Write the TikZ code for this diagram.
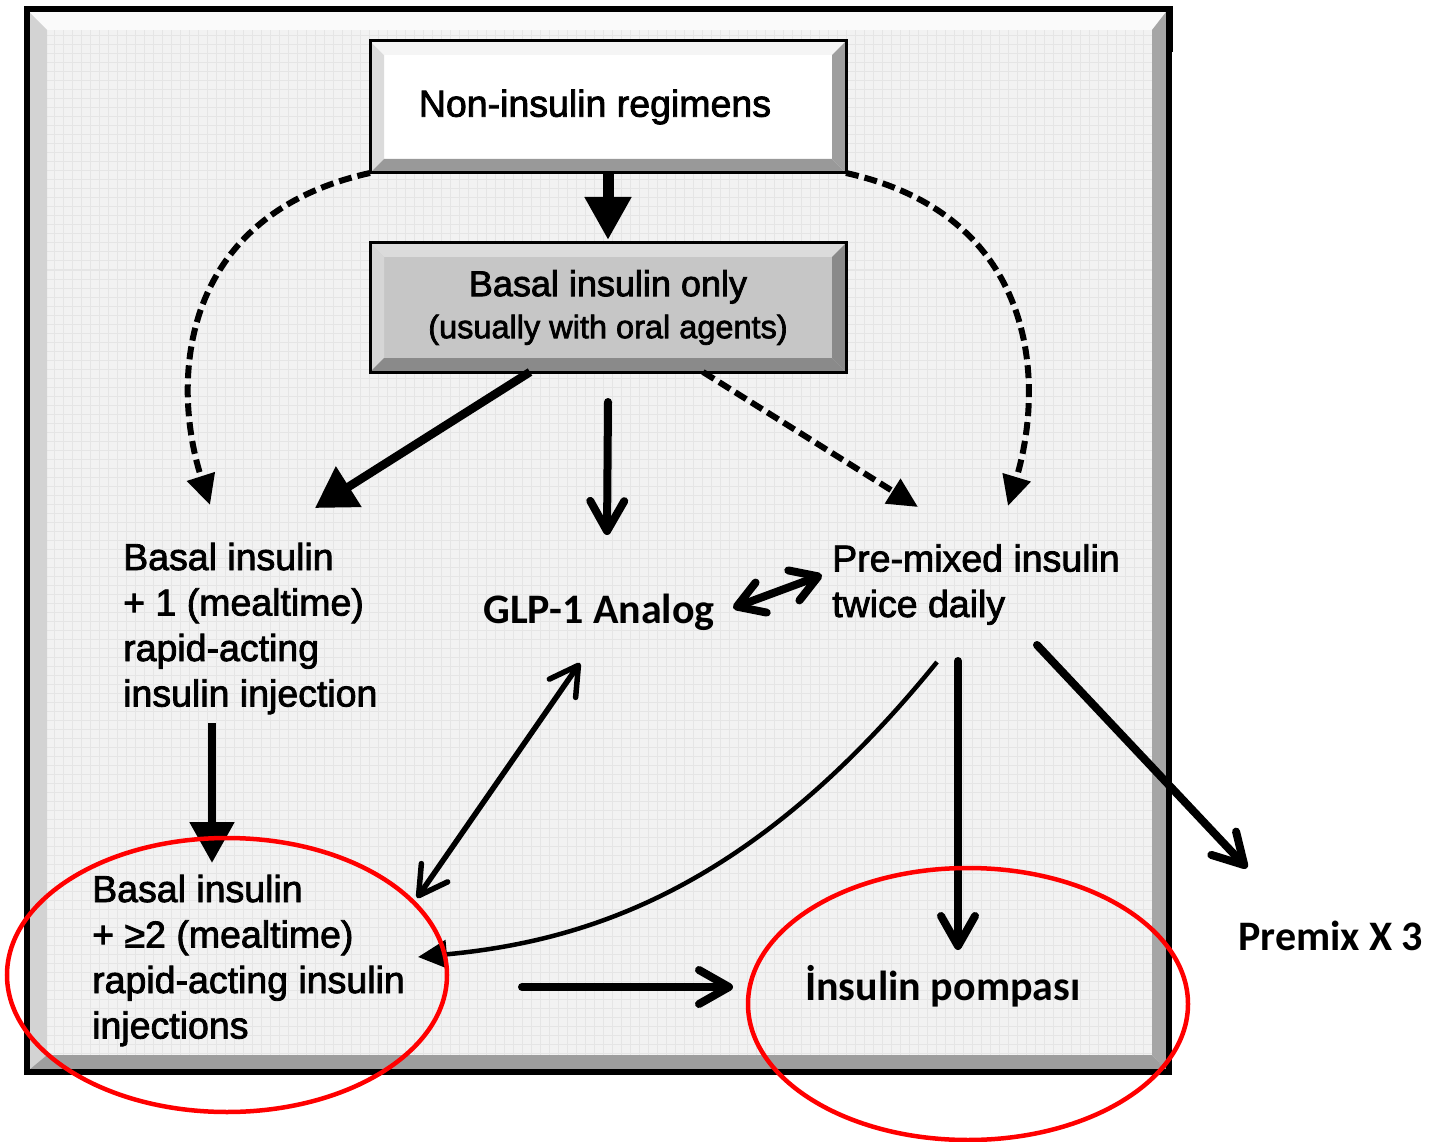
\documentclass[tikz,border=0pt]{standalone}
\usepackage{fontspec}
\setmainfont{Liberation Sans}[FakeBold=2.2]
\newfontfamily\calfont{Carlito}
\usetikzlibrary{arrows.meta,shapes.geometric}

\definecolor{fieldc}{HTML}{F2F2F2}
\definecolor{gridc}{HTML}{E5E5E5}
\definecolor{bevlight}{HTML}{D3D3D3}
\definecolor{bevdark}{HTML}{A6A6A6}
\definecolor{basalface}{HTML}{C6C6C6}
\definecolor{ringred}{HTML}{FF0000}

% bevelled edge for a rectangular node: node, depth, left, top, right, bottom colours
\newcommand{\bevelframe}[6]{%
  \fill[#3] (#1.north west) -- ([xshift=#2,yshift=-#2]#1.north west) -- ([xshift=#2,yshift=#2]#1.south west) -- (#1.south west) -- cycle;
  \fill[#4] (#1.north west) -- (#1.north east) -- ([xshift=-#2,yshift=-#2]#1.north east) -- ([xshift=#2,yshift=-#2]#1.north west) -- cycle;
  \fill[#5] (#1.north east) -- (#1.south east) -- ([xshift=-#2,yshift=#2]#1.south east) -- ([xshift=-#2,yshift=-#2]#1.north east) -- cycle;
  \fill[#6] (#1.south west) -- ([xshift=#2,yshift=#2]#1.south west) -- ([xshift=-#2,yshift=#2]#1.south east) -- (#1.south east) -- cycle;
  \draw[line width=3pt] (#1.north west) rectangle (#1.south east);
}

\begin{document}
\begin{tikzpicture}[x=1pt,y=-1pt,
  txt/.style={inner sep=0pt, align=left, font=\fontsize{37.5}{45.5}\selectfont},
  boldtxt/.style={inner sep=0pt, font=\calfont\bfseries\fontsize{42}{50}\selectfont},
  boxbase/.style={draw=black, line width=3pt, outer sep=0pt, inner sep=0pt,
    minimum width=476pt, align=center},
  heavy/.style={line width=8.5pt, -{Triangle[length=40pt,width=46pt]}},
  barb/.style={line width=8pt, line cap=round, -{Straight Barb[length=30pt,width=34pt,round]}},
  barbboth/.style={line width=8pt, line cap=round,
    {Straight Barb[length=26pt,width=32pt,round]}-{Straight Barb[length=26pt,width=32pt,round]}},
  thinboth/.style={line width=5.5pt, line cap=round,
    {Straight Barb[length=28pt,width=32pt,round]}-{Straight Barb[length=28pt,width=32pt,round]}},
  dasharrow/.style={line width=6pt, dash pattern=on 13pt off 6pt, -{Triangle[length=30pt,width=28pt]}}
]
\useasboundingbox (0,0) rectangle (1430,1142);
\fill[white] (0,0) rectangle (1430,1142);

% ---- outer panel ----
\fill[fieldc] (47,30) rectangle (1152,1055);
\begin{scope}
  \clip (47,30) rectangle (1152,1055);
  \draw[gridc, line width=1pt] (47,1055) grid[step=9pt] (1152,30);
\end{scope}
\fill[white!98!black] (29,12) -- (1166,12) -- (1152,30) -- (47,30) -- cycle;
\fill[bevlight] (29,12) -- (47,30) -- (47,1055) -- (29,1070) -- cycle;
\fill[bevdark] (1166,12) -- (1152,30) -- (1152,1055) -- (1166,1070) -- cycle;
\fill[bevdark!95!black] (29,1070) -- (47,1055) -- (1152,1055) -- (1166,1070) -- cycle;
\draw[line width=6pt] (27,9.5) rectangle (1169,1072);
\fill (1166,6.5) rectangle (1173,52);

% ---- boxes ----
\node[boxbase, fill=white, minimum height=132pt,
  font=\fontsize{37.5}{45}\selectfont] (nonins) at (608,107)
  {Non-insulin regimens\hspace*{26pt}};
\bevelframe{nonins}{14pt}{white!86!black}{white!96!black}{white!62!black}{white!60!black}

\node[boxbase, fill=basalface, minimum height=129pt,
  font=\fontsize{36}{42}\selectfont] (basal) at (608,307.5)
  {Basal insulin only\\{\fontsize{32.5}{42}\selectfont (usually with oral agents)}};
\bevelframe{basal}{14pt}{white!84!black}{white!86!black}{white!54!black}{white!54!black}

% ---- regimen labels (anchored at the baseline of their last line) ----
\node[txt, anchor=base west] (b1) at (123,706.5)
  {Basal insulin\\+ 1 (mealtime)\\rapid-acting\\insulin injection};
\node[txt, anchor=base west] (b2) at (92,1038.5)
  {Basal insulin\\+ ≥2 (mealtime)\\rapid-acting insulin\\injections};
\node[txt, anchor=base west] (pm) at (832,617)
  {Pre-mixed insulin\\twice daily};
\node[boldtxt, anchor=base] (glp) at (599,623) {GLP-1 Analog};
\node[boldtxt, anchor=base west] (pump) at (805,1000) {İnsulin pompası};
\node[boldtxt, anchor=base west] (p3) at (1238,950) {Premix X 3};

% ---- connectors ----
\draw[line width=11pt, -{Triangle[length=43pt,width=44pt]}]
  (nonins.south) -- ([yshift=3pt]basal.north);
\draw[heavy] ([xshift=-78pt]basal.south) -- ([shift={(192,-198.5)}]b1.base west);
\draw[barb] ([yshift=-30pt]basal.south) -- ([shift={(8,-88)}]glp.base);
\draw[dasharrow] ([xshift=95pt]basal.south) -- ([shift={(86,-110)}]pm.base west);
\draw[dasharrow] (nonins.south west) .. controls (180,215) and (170,380)
  .. ([shift={(87,-201.5)}]b1.base west);
\draw[dasharrow] (nonins.south east) .. controls (1036,215) and (1046,380)
  .. ([shift={(176,-111)}]pm.base west);
\draw[barbboth] ([shift={(134,-15)}]glp.base) -- ([shift={(-10,-42)}]pm.base west);
\draw[line width=8.5pt, -{Triangle[length=41pt,width=43pt]}]
  ([shift={(89,16.5)}]b1.base west) -- ([shift={(120,-175.5)}]b2.base west);
\draw[thinboth] ([shift={(-19,40)}]glp.base) -- ([shift={(325,-140.5)}]b2.base west);
\draw[line width=4.5pt, -{Triangle[length=29pt,width=28pt]}]
  ([shift={(105,45)}]pm.base west) .. controls (760,880) and (600,940)
  .. ([shift={(326,-81.5)}]b2.base west);
\draw[barb] ([shift={(126,44)}]pm.base west) -- ([shift={(153,-50)}]pump.base west);
\draw[barb] ([shift={(205,28)}]pm.base west) -- ([shift={(9,-82)}]p3.base west);
\draw[barb] ([shift={(430,-51.5)}]b2.base west) -- ([shift={(-72,-13)}]pump.base west);

% ---- highlight rings ----
\draw[ringred, line width=4.5pt] (227,975) ellipse [x radius=220, y radius=137];
\draw[ringred, line width=4.5pt] (968,1004) ellipse [x radius=220, y radius=136];
\end{tikzpicture}
\end{document}
